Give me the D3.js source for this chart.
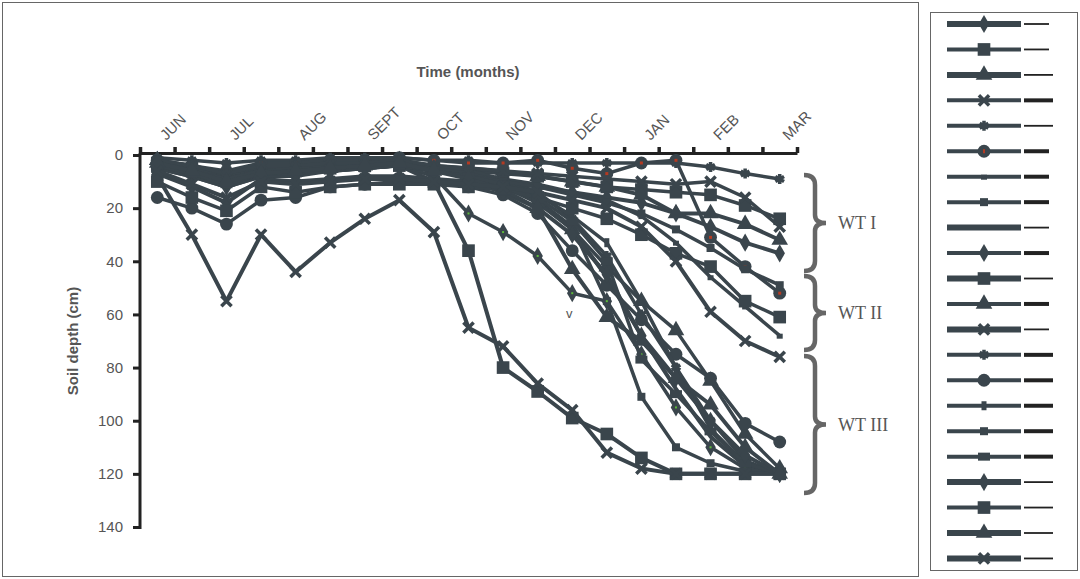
<!DOCTYPE html>
<html>
<head>
<meta charset="utf-8">
<script src="https://cdn.jsdelivr.net/npm/d3@7"></script>
<style>
  body { margin: 0; background: #fff; }
  svg { display: block; font-family: "Liberation Sans", Arial, sans-serif; }
</style>
</head>
<body>
<svg id="chart" width="1080" height="579"></svg>
<script>
// half-month sampling dates, JUN .. MAR
const periods = d3.range(19);
const monthLabels = ["JUN", "", "JUL", "", "AUG", "", "SEPT", "", "OCT", "", "NOV", "", "DEC", "", "JAN", "", "FEB", "", "MAR"];
const depthTicks = [0, 20, 40, 60, 80, 100, 120, 140];

// soil depth (cm) of each tube
const s1  = [5, 8, 12, 8, 7, 6, 5, 4, 6, 8, 10, 12, 14, 16, 18, 22, 27, 33, 37];
const s2  = [4, 6, 9, 6, 5, 4, 4, 3, 5, 6, 7, 8, 10, 12, 13, 14, 15, 19, 24];
const s3  = [2, 4, 7, 5, 4, 3, 3, 2, 4, 5, 6, 8, 10, 12, 15, 22, 22, 26, 32];
const s4  = [3, 5, 8, 5, 5, 4, 3, 3, 4, 5, 6, 7, 8, 9, 10, 11, 10, 16, 27];
const s5  = [1, 2, 3, 2, 2, 1, 1, 1, 2, 2, 3, 3, 3, 3, 3, 3, 4.5, 7, 9];
const s6  = [2, 4, 6, 3, 3, 2, 2, 1, 2, 3, 3, 2, 5, 7, 3, 2, 31, 42, 52];
const s7  = [3, 6, 10, 6, 6, 5, 4, 3, 5, 7, 9, 11, 14, 17, 23, 33, 46, 57, 68];
const s8  = [3, 6, 10, 7, 6, 5, 4, 4, 6, 8, 11, 17, 27, 55, 91, 110, 116, 119, 120];
const s9  = [5, 8, 12, 8, 7, 6, 5, 4, 6, 8, 11, 17, 28, 46, 68, 88, 106, 117, 120];
const s10 = [3, 6, 10, 8, 8, 6, 5, 4, 8, 22, 29, 38, 52, 55, 75, 95, 110, 118, 120];
const s11 = [3, 5, 8, 6, 6, 5, 4, 4, 10, 36, 80, 89, 99, 105, 114, 120, 120, 120, 120];
const s12 = [2, 5, 9, 6, 5, 4, 3, 3, 5, 8, 12, 18, 28, 42, 55, 66, 85, 105, 118];
const s13 = [8, 30, 55, 30, 44, 33, 24, 17, 29, 65, 72, 86, 96, 112, 118, 120, 120, 120, 120];
const s14 = [2, 4, 7, 4, 4, 3, 3, 2, 4, 6, 9, 14, 24, 38, 60, 80, 100, 115, 120];
const s15 = [16, 20, 26, 17, 16, 12, 11, 10, 10, 12, 15, 22, 36, 49, 62, 75, 84, 101, 108];
const s16 = [3, 6, 9, 6, 6, 5, 4, 4, 5, 7, 10, 15, 23, 33, 55, 80, 103, 116, 120];
const s17 = [4, 7, 11, 7, 7, 5, 5, 4, 6, 8, 10, 12, 15, 18, 22, 28, 35, 43, 49];
const s18 = [4, 7, 11, 7, 6, 5, 5, 4, 6, 8, 11, 16, 25, 40, 77, 90, 104, 116, 120];
const s19 = [7, 12, 18, 9, 10, 9, 8, 8, 9, 10, 14, 20, 30, 45, 68, 84, 100, 113, 120];
const s20 = [10, 16, 21, 12, 14, 12, 11, 11, 11, 12, 13, 16, 20, 24, 30, 37, 42, 55, 61];
const s21 = [3, 6, 10, 7, 6, 5, 4, 3, 6, 9, 13, 20, 43, 61, 70, 84, 94, 110, 120];
const s22 = [6, 11, 16, 10, 11, 10, 9, 9, 10, 11, 12, 14, 17, 20, 27, 40, 59, 70, 76];

const series = [s1, s2, s3, s4, s5, s6, s7, s8, s9, s10, s11, s12, s13, s14, s15, s16, s17, s18, s19, s20, s21, s22];

// per-series look (excel default marker cycle)
const markerTypes = ["diamond", "square", "triangle", "x", "star", "circle", "dash", "smallSquare", "none", "diamond", "square",
    "triangle", "x", "star", "circle", "plus", "smallSquare", "wideSquare", "diamond", "square", "triangle", "x"];
const thickLine = [1, 0, 1, 0, 0, 0, 0, 0, 1, 0, 1, 0, 1, 0, 0, 0, 0, 0, 1, 0, 1, 1];
const keyThick = [0, 0, 0, 1, 0, 1, 1, 1, 0, 1, 0, 1, 0, 1, 1, 1, 1, 1, 0, 0, 0, 0];
const keyLong = [0, 0, 1, 1, 1, 0, 0, 0, 0, 0, 1, 0, 0, 1, 1, 1, 1, 1, 1, 1, 1, 1];

const ink = "#3a454c";
const svg = d3.select("#chart");

// frames
svg.append("rect").attr("x", 2.5).attr("y", 2.5).attr("width", 916).attr("height", 574)
    .attr("fill", "none").attr("stroke", "#666").attr("stroke-width", 1);
svg.append("rect").attr("x", 930.5).attr("y", 12.5).attr("width", 147).attr("height", 558)
    .attr("fill", "none").attr("stroke", "#666").attr("stroke-width", 1);

const x = d3.scaleBand().domain(periods).range([140, 797]);
const xEdge = d3.scaleLinear().domain([0, 19]).range([140, 797]);
const y = d3.scaleLinear().domain([0, 140]).range([155, 527]);
const cx = i => x(i) + x.bandwidth() / 2;

// x axis on top, ticks between sampling dates
const axisXG = svg.append("g").attr("transform", "translate(0,153)")
    .call(d3.axisTop(xEdge).tickValues(d3.range(0, 20)).tickSize(6).tickSizeOuter(0).tickFormat(""));
axisXG.select(".domain").attr("stroke", "#222").attr("stroke-width", 3);
axisXG.selectAll(".tick line").attr("stroke", "#222").attr("stroke-width", 3.5);

svg.append("g").selectAll("text").data(periods.filter(i => monthLabels[i]))
    .join("text")
    .attr("transform", i => `translate(${cx(i) + 9},141) rotate(-45)`)
    .attr("font-size", 15).attr("fill", "#555")
    .text(i => monthLabels[i]);

// y axis
const axisYG = svg.append("g").attr("transform", "translate(140,0)")
    .call(d3.axisLeft(y).tickValues(depthTicks).tickSize(7).tickPadding(10).tickSizeOuter(0));
axisYG.select(".domain").attr("stroke", "#222").attr("stroke-width", 3).attr("d", "M0,153V529");
axisYG.selectAll(".tick line").attr("stroke", "#222").attr("stroke-width", 3);
axisYG.selectAll(".tick text").attr("font-size", 15).attr("fill", "#555").attr("font-family", "Liberation Sans, Arial, sans-serif");

svg.append("text").attr("x", 468).attr("y", 77).attr("text-anchor", "middle")
    .attr("font-size", 15).attr("font-weight", "bold").attr("fill", "#555").text("Time (months)");
svg.append("text").attr("transform", "translate(78,341) rotate(-90)").attr("text-anchor", "middle")
    .attr("font-size", 15).attr("font-weight", "bold").attr("fill", "#555").text("Soil depth (cm)");

// draw a marker of given type centred at 0,0
function drawMarker(g, type) {
    const sym = (t, s) => g.append("path").attr("d", d3.symbol(t, s)()).attr("fill", ink);
    switch (type) {
        case "diamond": sym(d3.symbolDiamond, 95); break;
        case "square": sym(d3.symbolSquare, 160); break;
        case "triangle": sym(d3.symbolTriangle, 120); break;
        case "circle": sym(d3.symbolCircle, 130); break;
        case "x":
            g.append("path").attr("d", d3.symbol(d3.symbolX, 70)()).attr("fill", "none")
                .attr("stroke", ink).attr("stroke-width", 3.5);
            break;
        case "star":
            g.append("path").attr("d", d3.symbol(d3.symbolAsterisk, 70)()).attr("fill", "none")
                .attr("stroke", ink).attr("stroke-width", 3.5);
            break;
        case "dash": g.append("rect").attr("x", -3).attr("y", -2).attr("width", 6).attr("height", 5).attr("fill", ink); break;
        case "smallSquare": g.append("rect").attr("x", -4).attr("y", -4).attr("width", 8).attr("height", 8).attr("fill", ink); break;
        case "wideSquare": g.append("rect").attr("x", -6).attr("y", -4).attr("width", 12).attr("height", 8).attr("fill", ink); break;
        case "plus": g.append("rect").attr("x", -2.5).attr("y", -4.5).attr("width", 5).attr("height", 9).attr("fill", ink); break;
    }
}

const line = d3.line().x((d, i) => cx(i)).y(d => y(d));
const plot = svg.append("g");

series.forEach((s, k) => {
    const g = plot.append("g");
    g.append("path").datum(s).attr("d", line).attr("fill", "none")
        .attr("stroke", ink).attr("stroke-width", thickLine[k] ? 4 : 3.5).attr("stroke-linejoin", "round");
    s.forEach((v, i) => {
        const m = g.append("g").attr("transform", `translate(${cx(i)},${y(v)})`);
        drawMarker(m, markerTypes[k]);
        if (k === 5) m.append("rect").attr("x", -1.5).attr("y", -1.5).attr("width", 3).attr("height", 3).attr("fill", "#b33a22");
        if (k === 9) m.append("rect").attr("x", -1).attr("y", -1).attr("width", 2).attr("height", 2).attr("fill", "#5cb83a");
    });
});

svg.append("text").attr("x", 566).attr("y", 318).attr("font-size", 13).attr("fill", "#555").text("v");

// brackets for the water table groups
const groups = [
    {name: "WT I", top: 175, bottom: 271},
    {name: "WT II", top: 276, bottom: 350},
    {name: "WT III", top: 356, bottom: 493}
];
groups.forEach(gr => {
    const mid = (gr.top + gr.bottom) / 2;
    const x0 = 804, x1 = 815, x2 = 826;
    const p = `M${x0},${gr.top} Q${x1},${gr.top} ${x1},${gr.top + 10} L${x1},${mid - 8} Q${x1},${mid} ${x2},${mid}`
        + ` Q${x1},${mid} ${x1},${mid + 8} L${x1},${gr.bottom - 10} Q${x1},${gr.bottom} ${x0},${gr.bottom}`;
    svg.append("path").attr("d", p).attr("fill", "none").attr("stroke", "#666").attr("stroke-width", 4.5);
    svg.append("text").attr("x", 838).attr("y", mid + 6).attr("font-family", "Liberation Serif, Times New Roman, serif")
        .attr("font-size", 18).attr("fill", "#555").text(gr.name);
});

// legend: line + marker, then short key line
const legend = svg.append("g");
series.forEach((s, k) => {
    const ly = 24 + k * 25.45;
    const g = legend.append("g").attr("transform", `translate(0,${ly})`);
    g.append("line").attr("x1", 947).attr("x2", 1021).attr("y1", 0).attr("y2", 0)
        .attr("stroke", ink).attr("stroke-width", thickLine[k] ? 6 : 4);
    const m = g.append("g").attr("transform", "translate(984,0)");
    drawMarker(m, markerTypes[k]);
    if (k === 5) m.append("rect").attr("x", -1).attr("y", -2).attr("width", 2).attr("height", 4).attr("fill", "#b33a22");
    g.append("line").attr("x1", 1024).attr("x2", keyLong[k] ? 1053 : 1049).attr("y1", 0).attr("y2", 0)
        .attr("stroke", "#222").attr("stroke-width", keyThick[k] ? 4 : 1.8);
});
</script>
</body>
</html>
